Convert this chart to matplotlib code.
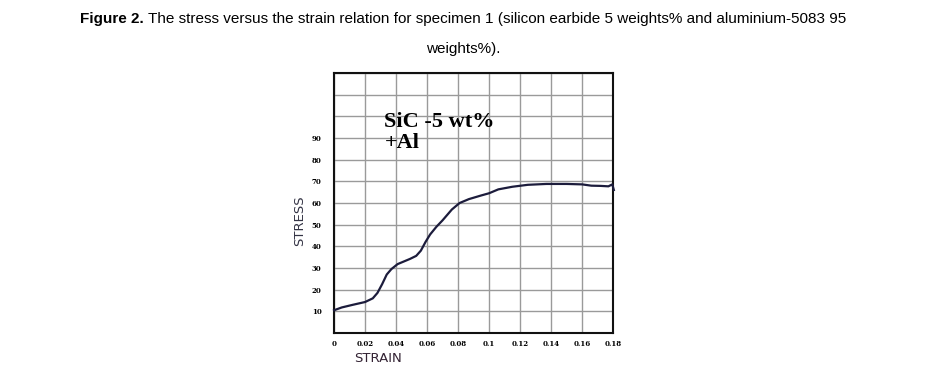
import matplotlib
matplotlib.use('Agg')
from matplotlib import pyplot as plt

# stress-strain curve
strain = [0.0, 0.005, 0.012, 0.02, 0.025, 0.028, 0.031, 0.034, 0.037, 0.041, 0.045,
          0.049, 0.053, 0.056, 0.059, 0.062, 0.066, 0.070, 0.073, 0.076, 0.081,
          0.087, 0.095, 0.100, 0.106, 0.115, 0.125, 0.137, 0.150, 0.160, 0.166,
          0.172, 0.177, 0.1795, 0.1805]
stress = [10.5, 11.8, 13.0, 14.3, 16.0, 18.5, 22.5, 27.0, 29.5, 31.8, 33.0,
          34.2, 35.6, 38.0, 42.0, 45.5, 49.0, 52.0, 54.5, 57.0, 60.0,
          61.8, 63.5, 64.5, 66.3, 67.5, 68.4, 68.8, 68.8, 68.6, 68.0,
          67.9, 67.7, 68.6, 66.0]

xticks = [0, 0.02, 0.04, 0.06, 0.08, 0.1, 0.12, 0.14, 0.16, 0.18]
xlabels = ['0', '0.02', '0.04', '0.06', '0.08', '0.1', '0.12', '0.14', '0.16', '0.18']
yticks = list(range(0, 130, 10))
ylabels = ['', '10', '20', '30', '40', '50', '60', '70', '80', '90', '', '', '']

fig = plt.figure(figsize=(9.32, 3.71), dpi=100)
fig.patch.set_facecolor('white')

# caption: bold "Figure 2." then the rest right after it
t1 = fig.text(0.086, 0.95, 'Figure 2.', family='Liberation Sans', weight='bold',
              fontsize=11, ha='left', va='center')
r = fig.canvas.get_renderer()
bb = t1.get_window_extent(renderer=r)
fig.text(bb.x1 / fig.bbox.width, 0.95,
         ' The stress versus the strain relation for specimen 1 (silicon earbide 5 weights% and aluminium-5083 95',
         family='Liberation Sans', fontsize=11, ha='left', va='center')
fig.text(0.497, 0.868, 'weights%).', family='Liberation Sans', fontsize=11,
         ha='center', va='center')

ax = fig.add_axes([0.3584, 0.1024, 0.2994, 0.7008])
ax.plot(strain, stress, color='#1c1c3c', lw=1.6, clip_on=False, zorder=3)
ax.set_xlim(0, 0.18)
ax.set_ylim(0, 120)
ax.set_xticks(xticks)
ax.set_xticklabels(xlabels, family='DejaVu Serif', weight='bold', fontsize=5)
ax.set_yticks(yticks)
ax.set_yticklabels(ylabels, family='DejaVu Serif', weight='bold', fontsize=5)
ax.tick_params(axis='x', length=0, pad=5)
ax.tick_params(axis='y', length=0, pad=9)
ax.grid(True, color='#9a9a9a', lw=1.0)
for s in ax.spines.values():
    s.set_linewidth(1.5)
    s.set_color('#111111')

ax.text(0.0325, 95.3, 'SiC -5 wt%', family='Liberation Serif', weight='bold',
        fontsize=16, ha='left', va='baseline', zorder=4)
ax.text(0.0325, 85.6, '+Al', family='Liberation Serif', weight='bold',
        fontsize=16, ha='left', va='baseline', zorder=4)

fig.text(0.321, 0.404, 'STRESS', rotation=90, fontsize=9.5, color='#333344',
         ha='center', va='center')
fig.text(0.406, 0.035, 'STRAIN', fontsize=9.5, color='#332233', ha='center', va='center')

fig.savefig('out.png', dpi=100)
